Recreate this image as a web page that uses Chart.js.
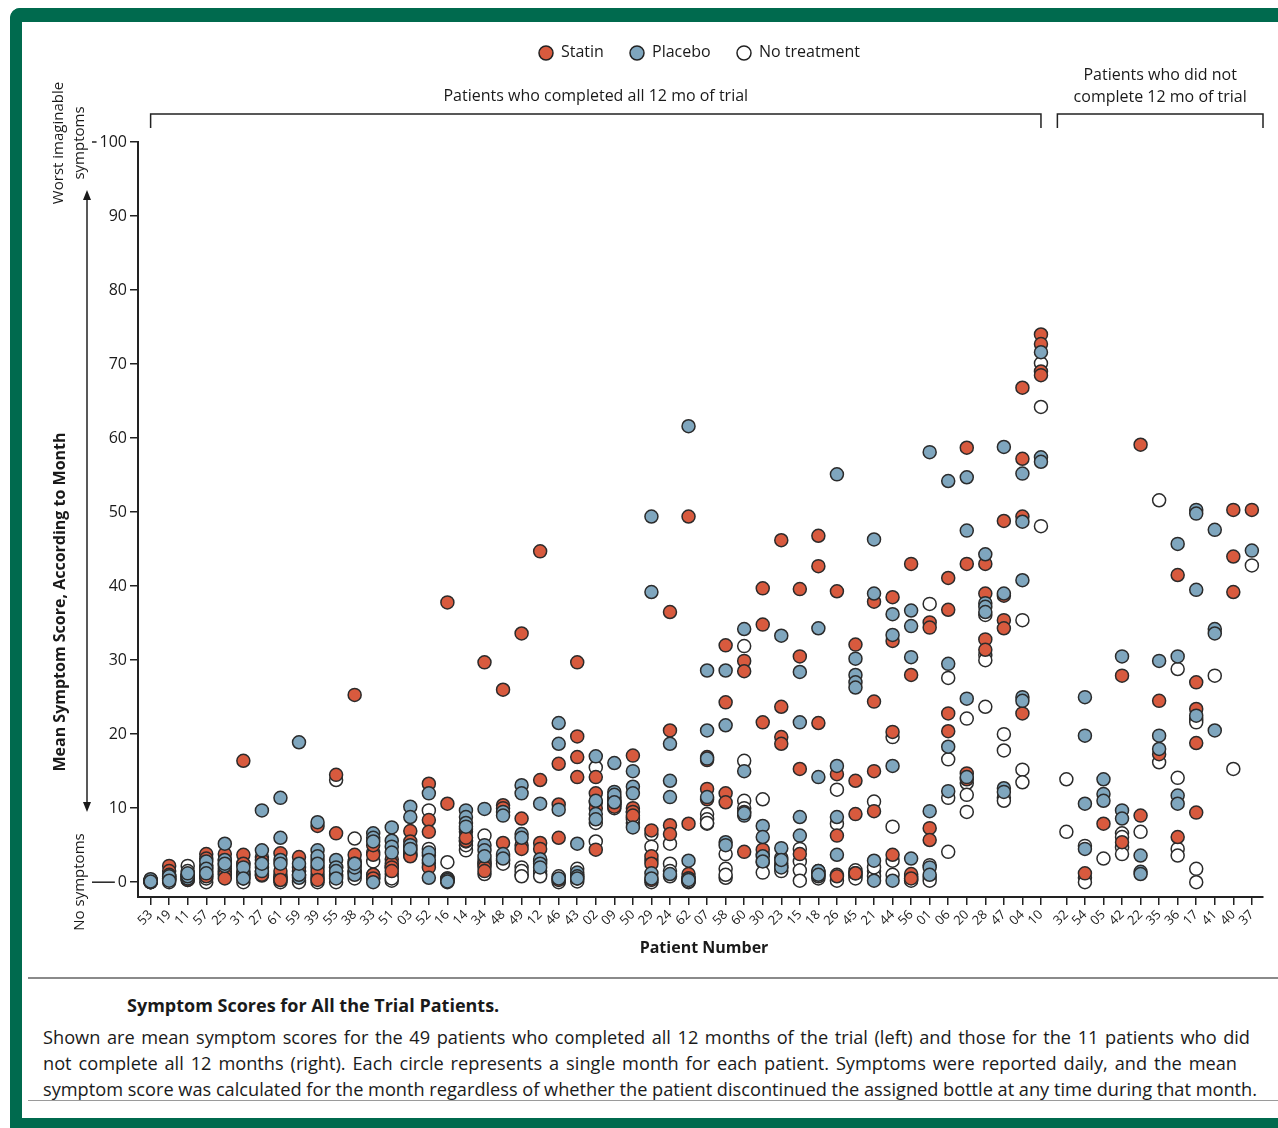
<!DOCTYPE html>
<html>
<head>
<meta charset="utf-8">
<script src="https://cdn.jsdelivr.net/npm/chart.js@4.4.1/dist/chart.umd.min.js"></script>
<style>
  html, body { margin:0; padding:0; background:#fff; }
  body { width:1278px; height:1128px; position:relative; overflow:hidden; font-family:"Open Sans", sans-serif; color:#1a1a1a; }
  #wrap { position:absolute; left:0; top:0; width:1278px; height:975px; }
  .frame-top { position:absolute; left:10px; top:8px; width:1268px; height:14px; background:#006a4e; border-top-left-radius:10px; }
  .frame-left { position:absolute; left:10px; top:8px; width:12px; height:1120px; background:#006a4e; border-top-left-radius:10px; }
  .frame-bottom { position:absolute; left:10px; top:1118px; width:1268px; height:10px; background:#006a4e; }
  .sep { position:absolute; left:28px; top:977px; width:1250px; height:2px; background:#8a8a8a; }
  .sep2 { position:absolute; left:28px; top:1100px; width:1250px; height:1px; background:#9a9a9a; }
  .cap-title { position:absolute; left:127px; top:993px; font-weight:700; font-size:18px; white-space:nowrap; }
  .cap-line { position:absolute; left:43px; font-size:18.2px; white-space:nowrap; }
</style>
</head>
<body>
<div id="wrap"><canvas id="c" width="1278" height="975"></canvas></div>
<div class="frame-top"></div>
<div class="frame-left"></div>
<div class="frame-bottom"></div>
<div class="sep"></div>
<div class="cap-title">Symptom Scores for All the Trial Patients.</div>
<div class="cap-line" data-w="1207" style="top:1025px">Shown are mean symptom scores for the 49 patients who completed all 12 months of the trial (left) and those for the 11 patients who did</div>
<div class="cap-line" data-w="1194" style="top:1051px">not complete all 12 months (right). Each circle represents a single month for each patient. Symptoms were reported daily, and the mean</div>
<div class="cap-line" data-w="1214" style="top:1077px">symptom score was calculated for the month regardless of whether the patient discontinued the assigned bottle at any time during that month.</div>
<div class="sep2"></div>
<script>
// ---------------- DATA ----------------
const patients = ['53','19','11','57','25','31','27','61','59','39','55','38','33','51','03','52','16','14','34','48','49','12','46','43','02','09','50','29','24','62','07','58','60','30','23','15','18','26','45','21','44','56','01','06','20','28','47','04','10',
                  '32','54','05','42','22','35','36','17','41','40','37'];
const nCompleted = 49;
const yTickValues = [0,10,20,30,40,50,60,70,80,90,100];

const statin = [
 [0.1,0.2,0.0,0.3],[2.2,1.5,1.0,0.5],[0.3,0.5,0.8,1.0],[3.8,3.2,0.8,1.5],[3.8,1.5,1.0,0.5],
 [16.4,3.7,2.5,1.0],[2.5,1.5,1.0,3.0],[3.9,0.7,1.5,0.3],[3.4,1.5,0.8,2.0],[7.6,3.0,1.5,0.3],
 [14.5,6.6,2.0,1.0],[25.3,3.7,2.5,1.5],[3.7,5.0,1.0,0.5],[3.1,2.5,2.0,1.5],[6.9,5.5,4.8,3.5],
 [13.3,8.4,6.8,2.0],[37.8,10.6,0.3,0.5],[6.8,5.6,7.2,6.0],[29.7,2.5,2.0,1.5],[26.0,10.4,5.3,10.0],
 [33.6,8.6,5.0,4.5],[44.7,13.8,5.3,4.5],[16.0,10.5,6.0,0.3],[29.7,19.7,16.9,14.2],[14.2,12.0,10.0,4.4],
 [11.5,10.5,11.0,10.2],[17.1,10.0,9.5,9.0],[7.0,3.5,2.5,0.3],[36.5,20.5,7.7,6.5],[49.4,7.9,1.1,0.5],
 [16.9,16.5,12.6,11.2],[32.0,24.3,12.0,10.8],[29.9,28.5,9.5,4.1],[39.7,34.8,21.6,4.4],[46.2,23.7,19.6,18.7],
 [39.6,30.5,15.3,3.8],[46.8,42.7,21.5,1.2],[39.3,14.6,6.3,0.8],[32.1,13.7,9.2,1.2],[37.9,24.4,15.0,9.6],
 [38.5,32.6,20.3,3.7],[43.0,28.0,1.1,0.5],[35.1,34.4,7.3,5.7],[41.1,36.8,22.8,20.4],[58.7,43.0,14.7,13.9],
 [43.0,39.0,32.8,31.4],[48.8,38.7,35.4,34.3],[66.8,57.2,49.4,22.8],[74.0,72.7,69.0,68.5],
 [],[1.2],[7.9],[27.9,5.4],[59.1,9.0],[24.5,17.3],[41.5,6.1],[27.0,23.4,18.8,9.4],[],[50.3,44.0,39.2],[50.3]
];
const placebo = [
 [0.2,0.0,0.4,0.1],[0.5,0.3,0.8,0.2],[0.5,1.0,0.8,1.2],[2.3,2.8,1.8,1.2],[5.2,2.2,3.0,2.5],
 [1.5,1.0,2.0,0.5],[9.7,4.3,1.5,2.5],[11.4,6.0,3.0,2.5],[18.9,0.6,1.0,2.5],[8.1,4.3,3.5,2.5],
 [3.0,2.0,1.5,0.5],[1.5,1.0,2.0,2.5],[6.6,6.0,5.5,0.0],[7.4,5.6,4.8,4.0],[10.2,8.8,5.0,4.5],
 [12.0,0.6,4.0,3.0],[0.2,0.5,0.3,0.1],[9.7,8.8,8.0,7.5],[9.9,5.0,4.3,3.5],[9.5,3.8,9.0,3.2],
 [13.1,12.0,6.5,6.0],[10.6,3.1,2.5,2.0],[21.5,18.7,9.8,0.5],[5.2,1.3,0.8,0.5],[17.0,9.2,8.5,11.0],
 [16.1,12.2,11.8,10.8],[15.0,12.9,12.0,7.4],[49.4,39.2,1.2,0.5],[18.7,13.7,11.5,1.1],[61.6,2.9,0.5,0.3],
 [28.6,20.5,16.7,11.5],[28.6,21.2,5.4,5.0],[34.2,15.0,9.0,9.3],[7.6,6.1,3.5,2.8],[33.3,4.6,2.0,3.0],
 [28.4,21.6,8.8,6.3],[34.3,14.2,1.5,1.0],[55.1,15.7,8.8,3.7],[30.2,28.0,27.0,26.3],[46.3,39.0,2.9,0.2],
 [36.2,33.4,15.7,0.2],[36.7,34.6,30.4,3.2],[58.1,9.6,2.0,1.0],[54.2,29.5,18.3,12.3],[54.7,47.5,24.8,14.2],
 [44.3,37.7,37.2,36.5],[58.8,39.0,12.7,12.2],[55.2,48.7,40.8,25.0,24.5],[71.6,57.4,56.8],
 [],[25.0,19.8,10.6,4.5],[13.9,11.9,11.0],[30.5,9.7,8.6],[3.6,1.4,1.1],[29.9,19.8,18.0],[45.7,30.5,11.7,10.6],[50.3,49.8,39.5,22.5],[47.6,34.2,33.6,20.5],[],[44.8]
];
const noTreatment = [
 [0.0,0.2,0.1,0.3],[0.0,0.3,0.5,0.8],[2.2,1.5,0.3,0.8],[0.0,0.5,1.0,2.0],[2.5,1.8,1.2,3.0],
 [2.5,0.0,1.2,0.5],[3.4,2.0,0.9,1.2],[0.0,0.3,0.5,1.0],[1.5,0.2,1.0,0.0],[2.0,1.0,0.5,0.0],
 [13.8,1.5,0.8,0.0],[5.9,2.8,1.2,0.5],[2.8,1.0,0.5,4.0],[2.0,1.1,0.2,0.5],[4.0,4.4,3.8,3.6],
 [9.7,4.5,3.6,2.6],[2.7,0.2,0.4,0.0],[4.3,5.0,6.0,5.5],[6.3,3.0,2.5,1.1],[2.9,3.5,3.0,2.5],
 [2.0,1.0,1.5,0.8],[1.1,1.5,2.8,0.8],[0.2,0.5,0.0,0.8],[1.8,0.1,0.5,1.0],[15.5,10.8,8.0,5.5],
 [11.2,10.5,10.0,10.8],[8.8,9.5,8.0,8.5],[6.5,4.8,3.0,0.0],[5.2,2.5,0.8,1.5],[0.2,0.0,0.4,0.1],
 [9.2,7.9,8.5,8.0],[3.8,1.8,0.6,1.0],[31.9,16.4,11.0,10.0],[11.2,3.8,2.7,1.3],[3.3,2.5,2.0,1.5],
 [4.5,2.8,1.6,0.2],[1.5,1.0,0.5,0.8],[12.5,7.9,1.0,0.2],[1.6,0.9,0.5,1.2],[10.9,1.5,0.8,2.0],
 [19.6,7.5,2.9,1.0],[0.3,0.8,0.5,0.2],[37.6,2.3,0.7,0.2],[27.6,16.6,11.4,4.1],[22.1,13.4,11.8,9.5],
 [36.1,30.7,30.0,23.7],[20.0,17.8,11.4,11.0],[35.4,15.2,13.5],[70.1,64.2,48.1],
 [13.9,6.8],[4.9,0.6,0.0],[3.2],[6.6,6.1,4.7,3.8],[6.8],[51.6,16.2],[28.8,14.1,4.5,3.6],[22.0,21.6,1.8,0.0],[27.9],[15.3],[42.8]
];

// ---------------- CAPTION FIT (stretch word spacing to the reference line widths) ----------------
document.querySelectorAll('.cap-line').forEach(el => {
  const target = +el.dataset.w;
  const natural = el.getBoundingClientRect().width;
  const spaces = (el.textContent.match(/ /g) || []).length;
  if (spaces) el.style.wordSpacing = ((target - natural) / spaces) + 'px';
});

// ---------------- BUILD ----------------
const GROUP_GAP = 0.37;
const pos = i => (i < nCompleted ? i : i + GROUP_GAP);
const toPoints = arr => arr.flatMap((vals, i) => vals.map(v => ({ x: pos(i), y: v })));
const tickPositions = patients.map((p, i) => pos(i));

const COL_STATIN = '#d85a3e', COL_PLACEBO = '#7fa6be', COL_NONE = '#ffffff';
const FONT = '"Open Sans", sans-serif';

const annotations = {
  id: 'annotations',
  afterDraw(chart) {
    const { ctx, scales: { x, y } } = chart;
    const ink = '#1a1a1a';
    ctx.save();
    ctx.fillStyle = ink; ctx.strokeStyle = ink;

    // Legend
    const items = [['Statin', COL_STATIN, 546], ['Placebo', COL_PLACEBO, 637], ['No treatment', COL_NONE, 744]];
    ctx.font = '16px ' + FONT; ctx.textBaseline = 'middle'; ctx.textAlign = 'left';
    items.forEach(([t, c, cx]) => {
      ctx.beginPath(); ctx.arc(cx, 53, 7, 0, Math.PI * 2);
      ctx.fillStyle = c; ctx.fill(); ctx.lineWidth = 1.5; ctx.strokeStyle = '#222'; ctx.stroke();
      ctx.fillStyle = ink; ctx.fillText(t, cx + 15, 52);
    });

    // Group brackets
    const bY = 114, bDrop = 14;
    const b1a = x.getPixelForValue(pos(0)), b1b = x.getPixelForValue(pos(nCompleted - 1));
    const b2a = x.getPixelForValue(pos(nCompleted)) - 9, b2b = x.right;
    ctx.lineWidth = 1.5; ctx.strokeStyle = '#222';
    [[b1a, b1b], [b2a, b2b]].forEach(([a, b]) => {
      ctx.beginPath(); ctx.moveTo(a, bY + bDrop); ctx.lineTo(a, bY); ctx.lineTo(b, bY); ctx.lineTo(b, bY + bDrop); ctx.stroke();
    });
    ctx.font = '16px ' + FONT; ctx.textAlign = 'center'; ctx.fillStyle = ink;
    ctx.fillText('Patients who completed all 12 mo of trial', (b1a + b1b) / 2, 96);
    ctx.fillText('Patients who did not', (b2a + b2b) / 2, 75);
    ctx.fillText('complete 12 mo of trial', (b2a + b2b) / 2, 97);

    // Long dashes at 100 and 0
    ctx.font = '16px ' + FONT;
    const labelRight = x.left - 8 - 3;
    [100, 0].forEach(v => {
      const py = y.getPixelForValue(v);
      const w = ctx.measureText(String(v)).width;
      ctx.beginPath(); ctx.moveTo(92, py); ctx.lineTo(labelRight - w - 3, py); ctx.lineWidth = 1.5; ctx.stroke();
    });

    // Double-headed arrow
    const ax = 87, aTop = 190, aBot = 812;
    ctx.beginPath(); ctx.moveTo(ax, aTop + 8); ctx.lineTo(ax, aBot - 8); ctx.lineWidth = 1.5; ctx.stroke();
    ctx.beginPath(); ctx.moveTo(ax, aTop); ctx.lineTo(ax - 4, aTop + 10); ctx.lineTo(ax + 4, aTop + 10); ctx.closePath(); ctx.fill();
    ctx.beginPath(); ctx.moveTo(ax, aBot); ctx.lineTo(ax - 4, aBot - 10); ctx.lineTo(ax + 4, aBot - 10); ctx.closePath(); ctx.fill();

    // Rotated side texts
    const rot = (txt, cx, cy, font) => {
      ctx.save(); ctx.translate(cx, cy); ctx.rotate(-Math.PI / 2);
      ctx.font = font; ctx.textAlign = 'center'; ctx.textBaseline = 'middle'; ctx.fillText(txt, 0, 0); ctx.restore();
    };
    rot('Worst imaginable', 59, 143, '15px ' + FONT);
    rot('symptoms', 80, 143, '15px ' + FONT);
    rot('No symptoms', 80, 882, '15px ' + FONT);
    rot('Mean Symptom Score, According to Month', 60, 602, 'bold 16px ' + FONT);

    // x title
    ctx.font = 'bold 16px ' + FONT; ctx.textAlign = 'center'; ctx.textBaseline = 'middle';
    ctx.fillText('Patient Number', 704, 948);
    ctx.restore();
  }
};

const common = { pointRadius: 6.5, pointHoverRadius: 6.5, borderWidth: 1.5, borderColor: '#2b2b2b', showLine: false };

new Chart(document.getElementById('c'), {
  type: 'scatter',
  data: {
    datasets: [
      Object.assign({ label: 'Statin', data: toPoints(statin), backgroundColor: COL_STATIN, order: 1 }, common),
      Object.assign({ label: 'Placebo', data: toPoints(placebo), backgroundColor: COL_PLACEBO, order: 0 }, common),
      Object.assign({ label: 'No treatment', data: toPoints(noTreatment), backgroundColor: COL_NONE, order: 2 }, common)
    ]
  },
  options: {
    responsive: false, animation: false, devicePixelRatio: 1,
    layout: { padding: { top: 142, left: 0, right: 15, bottom: 0 } },
    plugins: { legend: { display: false }, tooltip: { enabled: false } },
    scales: {
      x: {
        type: 'linear', min: -0.68, max: pos(patients.length - 1) + 0.6,
        afterBuildTicks: s => { s.ticks = tickPositions.map(v => ({ value: v })); },
        afterFit: s => { s.height = 78; },
        grid: { drawOnChartArea: false, drawTicks: true, tickLength: 8, color: '#222', lineWidth: 1.5 },
        border: { display: true, color: '#222', width: 2 },
        ticks: {
          autoSkip: false, minRotation: 45, maxRotation: 45, padding: 2,
          color: '#1a1a1a', font: { family: FONT, size: 13 },
          callback: (v, i) => patients[i]
        }
      },
      y: {
        min: -2, max: 100,
        afterBuildTicks: s => { s.ticks = yTickValues.map(v => ({ value: v })); },
        afterFit: s => { s.width = 138; },
        grid: { drawOnChartArea: false, drawTicks: true, tickLength: 8, color: '#222', lineWidth: 1.5 },
        border: { display: true, color: '#222', width: 2 },
        ticks: { color: '#1a1a1a', padding: 3, font: { family: FONT, size: 16 } }
      }
    }
  },
  plugins: [annotations]
});
</script>
</body>
</html>
